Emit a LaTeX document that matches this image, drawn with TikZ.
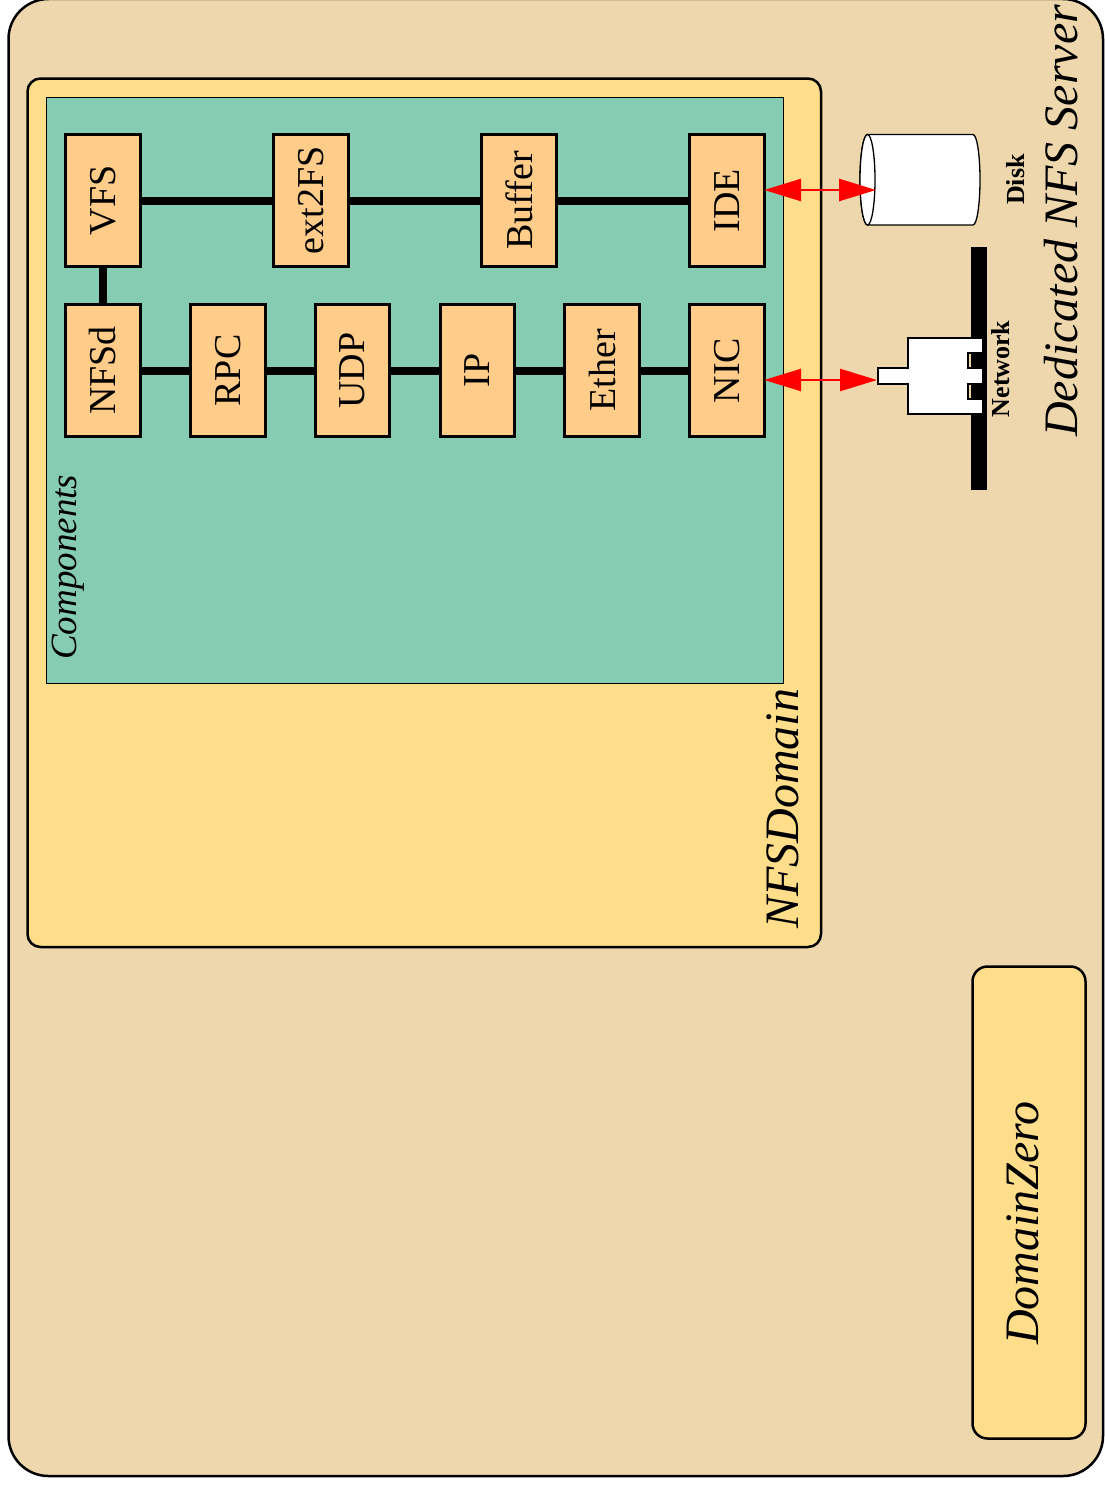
\documentclass[tikz,border=0pt]{standalone}
\usepackage{fontspec}
\setmainfont{Liberation Serif}
\usetikzlibrary{arrows.meta}
\definecolor{serverTan}{HTML}{EED7AC}
\definecolor{domainYellow}{HTML}{FEDE8A}
\definecolor{compGreen}{HTML}{86CCB2}
\definecolor{boxOrange}{HTML}{FFCC8A}
\begin{document}
\begin{tikzpicture}[
    x=1pt, y=-1pt,
    nfsBlock/.style={draw=black, line width=2.8pt, fill=boxOrange, rotate=90,
        minimum width=131.5pt, minimum height=74.5pt, inner sep=0pt,
        font=\fontsize{38}{44}\selectfont},
    nfsPanel/.style={draw=black, line width=2.5pt, fill=domainYellow},
    nfsLink/.style={line width=8pt},
    nfsTitle/.style={rotate=90, anchor=base west, inner sep=0pt,
        font=\fontsize{48}{56}\selectfont\itshape},
    nfsSmall/.style={rotate=90, anchor=base west, inner sep=0pt,
        font=\fontsize{26}{30}\selectfont\bfseries},
    nfsBus/.style={{Triangle[length=37pt,width=22pt]}-{Triangle[length=37pt,width=22pt]},
        red, line width=2.5pt, shorten <=-1.5pt},
    nfsDevice/.style={draw=black, line width=1.3pt, fill=white}
]
    \useasboundingbox (0,0) rectangle (1104,1488);

    % server and domains
    \draw[line width=2.5pt, fill=serverTan, rounded corners=40pt] (8.5,-1) rectangle (1103,1476);
    \draw[nfsPanel, rounded corners=13pt] (27.5,78.5) rectangle (821,947);
    \draw[nfsPanel, rounded corners=15pt] (972.5,966.5) rectangle (1085.5,1438.5);
    \draw[fill=compGreen, line width=1pt] (46.5,97) rectangle (783.5,683);

    % labels
    \node[nfsTitle] (serverLabel) at (1077,437) {Dedicated NFS Server};
    \node[nfsTitle] (nfsLabel) at (798,929) {NFSDomain};
    \node[nfsTitle] (zeroLabel) at (1038,1345) {DomainZero};
    \node[nfsTitle, font=\fontsize{37}{44}\selectfont\itshape] (compLabel) at (76,660) {Components};
    \node[nfsSmall] (netLabel) at (1009,417.5) {Network};
    \node[nfsSmall] (diskLabel) at (1024,205) {Disk};

    % upper row
    \node[nfsBlock] (vfs) at (103,200.5) {VFS};
    \node[nfsBlock] (ext) at (311,200.5) {ext2FS};
    \node[nfsBlock] (buffer) at (519,200.5) {Buffer};
    \node[nfsBlock] (ide) at (727,200.5) {IDE};

    % lower row
    \node[nfsBlock] (nfsd) at (103,370.5) {NFSd};
    \node[nfsBlock] (rpc) at (228,370.5) {RPC};
    \node[nfsBlock] (udp) at (352.5,370.5) {UDP};
    \node[nfsBlock] (ip) at (477.5,370.5) {IP};
    \node[nfsBlock] (ether) at (602,370.5) {Ether};
    \node[nfsBlock] (nic) at (727,370.5) {NIC};

    \draw[nfsLink] (vfs) -- (ext);
    \draw[nfsLink] (ext) -- (buffer);
    \draw[nfsLink] (buffer) -- (ide);
    \draw[nfsLink] (vfs) -- (nfsd);
    \draw[nfsLink] (nfsd) -- (rpc);
    \draw[nfsLink] (rpc) -- (udp);
    \draw[nfsLink] (udp) -- (ip);
    \draw[nfsLink] (ip) -- (ether);
    \draw[nfsLink] (ether) -- (nic);

    % disk
    \draw[nfsDevice] (867.5,134.5) -- (973,134.5)
        arc[start angle=90, end angle=-90, x radius=7pt, y radius=45.25pt]
        -- (867.5,225) arc[start angle=-90, end angle=-270, x radius=7.5pt, y radius=45.25pt];
    \draw[nfsDevice] (867.5,179.75) ellipse[x radius=7.5pt, y radius=45.25pt];
    \coordinate (diskPort) at (876,190);

    % network
    \fill (971,247) rectangle (987,490);
    \draw[nfsDevice] (878,368) -- (908,368) -- (908,338) -- (983,338) -- (983,353) -- (968,353)
        -- (968,368) -- (983,368) -- (983,384) -- (968,384) -- (968,399) -- (983,399)
        -- (983,414) -- (908,414) -- (908,384) -- (878,384) -- cycle;
    \coordinate (plugPort) at (877,380);

    \draw[nfsBus] ([yshift=10.5pt]ide.south) -- (diskPort);
    \draw[nfsBus] ([yshift=-9.5pt]nic.south) -- (plugPort);
\end{tikzpicture}
\end{document}
